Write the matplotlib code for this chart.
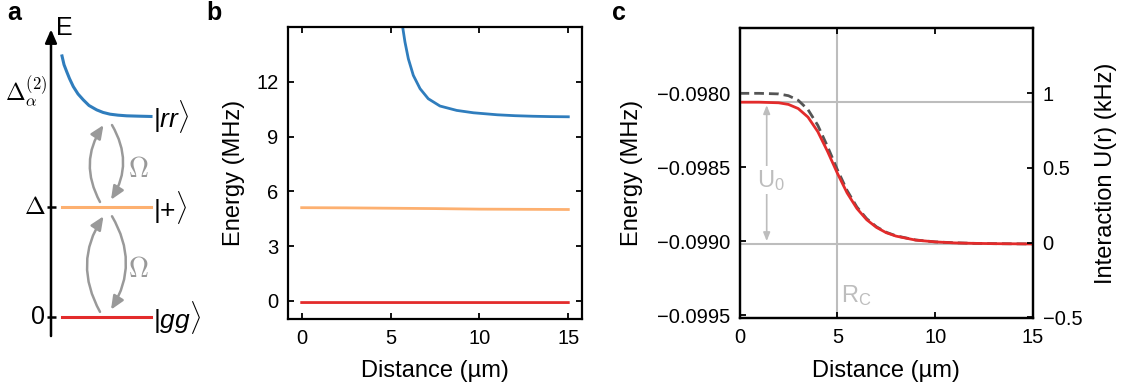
import matplotlib
import numpy as np

matplotlib.use("Agg")
import matplotlib.pyplot as plt  # noqa: E402
from matplotlib.ticker import FixedLocator, FuncFormatter  # noqa: E402

plt.rcParams["font.family"] = ["Liberation Sans", "DejaVu Sans"]
plt.rcParams["mathtext.fontset"] = "custom"
plt.rcParams["mathtext.rm"] = "Liberation Sans"
plt.rcParams["mathtext.it"] = "Liberation Sans:italic"
plt.rcParams["mathtext.bf"] = "Liberation Sans:bold"

BLUE = "#2f7dbd"
ORANGE = "#fdb070"
RED = "#e32b2b"
LIGHT = "#bdbdbd"
DARK = "#555555"
ARROW = "#999999"

# ---- panel a: schematic level diagram (energies in units of Delta) ----
level_energy = [0.0, 1.0, 1.83]
level_kets = [r"$|gg\rangle$", r"$|{+}\rangle$", r"$|rr\rangle$"]
level_colors = [RED, ORANGE, BLUE]
axis_ticks = [0.0, 1.0]
axis_ticklabels = ["0", r"$\Delta$"]
rr_curve_x = [62, 64, 66.7, 69.5, 73.3, 78, 83.3, 89, 96.7, 103, 110, 118, 126.7,
              138, 151]
rr_curve_e = [2.379, 2.30, 2.236, 2.173, 2.100, 2.033, 1.979, 1.928, 1.888, 1.865,
              1.849, 1.840, 1.834, 1.831, 1.828]

# ---- panel b: pair-state energies vs distance ----
b_rr_r = [5.6, 5.68, 5.81, 6.0, 6.28, 6.66, 7.12, 7.78, 8.72, 9.66, 11.0, 12.0,
          13.0, 14.0, 15.0]
b_rr_e = [15.5, 15.0, 14.18, 13.26, 12.35, 11.62, 11.07, 10.67, 10.43, 10.30,
          10.19, 10.14, 10.11, 10.09, 10.08]
b_plus_r = [0, 2.5, 5, 7.5, 10, 12.5, 15]
b_plus_e = [5.10, 5.09, 5.07, 5.05, 5.02, 5.01, 5.00]
b_gg_r = [0, 5, 10, 15]
b_gg_e = [-0.098, -0.0985, -0.099, -0.099]

# ---- panel c: dressed ground-state energy vs distance ----
c_r = [0, 1, 2, 2.5, 3, 3.5, 4, 4.5, 5, 5.5, 6, 6.5, 7, 7.5, 8, 9, 10, 11, 12, 13, 14, 15]
c_full = [-0.098060, -0.098060, -0.098064, -0.098075, -0.098103, -0.098161,
          -0.098259, -0.098393, -0.098540, -0.098674, -0.098779, -0.098855,
          -0.098907, -0.098943, -0.098966, -0.098993, -0.099005, -0.099012,
          -0.099015, -0.099017, -0.099018, -0.099019]
c_pert = [-0.098000, -0.098000, -0.098004, -0.098016, -0.098047, -0.098110,
          -0.098216, -0.098360, -0.098516, -0.098658, -0.098769, -0.098848,
          -0.098903, -0.098940, -0.098964, -0.098992, -0.099005, -0.099011,
          -0.099015, -0.099017, -0.099018, -0.099019]
c_u0_top = -0.098060
c_u0_base = -0.099020
c_rc = 5.0

TICK = 14.5
LABEL = 17

W, H = 1121, 389
fig = plt.figure(figsize=(W / 100, H / 100), dpi=100)

# ---------------- panel a ----------------
axa = fig.add_axes([0, 0, 230 / W, 1])
axa.set_xlim(0, 230)
axa.set_ylim(-0.652, 2.888)
axa.axis("off")

axa.annotate("", xy=(51, 2.62), xytext=(51, -0.17),
             arrowprops=dict(arrowstyle="-|>,head_width=0.35,head_length=0.8",
                             color="black", lw=1.8, shrinkA=0, shrinkB=0))
axa.text(56, 2.63, "E", fontsize=18, ha="left", va="center")
for e, lab in zip(axis_ticks, axis_ticklabels):
    axa.plot([46.5, 55.5], [e, e], color="black", lw=1.8, solid_capstyle="butt")
    axa.text(45.5, e, lab, fontsize=18, ha="right", va="center",
             math_fontfamily="cm")
axa.text(47, 2.05, r"$\Delta_\alpha^{(2)}$", fontsize=17, ha="right", va="center",
         math_fontfamily="cm")

for e, c in zip(level_energy[:2], level_colors[:2]):
    axa.plot([62, 151], [e, e], color=c, lw=2.2)
axa.plot(rr_curve_x, rr_curve_e, color=BLUE, lw=2.2)
for e, k in zip(level_energy, level_kets):
    axa.text(153, e, k, fontsize=19, ha="left", va="center")

for lo, hi in zip(level_energy[:-1], level_energy[1:]):
    style = dict(arrowstyle="-|>,head_width=0.35,head_length=0.8", color=ARROW,
                 lw=1.8, shrinkA=0, shrinkB=0, connectionstyle="arc3,rad=-0.3")
    axa.annotate("", xy=(103.5, hi - 0.08), xytext=(100, lo + 0.05), arrowprops=style)
    axa.annotate("", xy=(111, lo + 0.07), xytext=(112, hi - 0.08), arrowprops=style)
    axa.text(138, (lo + hi) / 2 - 0.07, r"$\Omega$", fontsize=20, color=ARROW,
             ha="center", va="center", math_fontfamily="cm")

# ---------------- panel b ----------------
axb = fig.add_axes([288 / W, 1 - 319 / H, 294 / W, 292 / H])
axb.plot(b_rr_r, b_rr_e, color=BLUE, lw=2)
axb.plot(b_plus_r, b_plus_e, color=ORANGE, lw=2)
axb.plot(b_gg_r, b_gg_e, color=RED, lw=2)
axb.set_xlim(-0.77, 15.77)
axb.set_ylim(-1, 15)
axb.set_xticks([0, 5, 10, 15])
axb.set_yticks([0, 3, 6, 9, 12])
axb.tick_params(direction="in", length=4, width=1.3, labelsize=TICK, pad=7,
                top=True, right=True)
axb.set_xlabel("Distance (\u00b5m)", fontsize=LABEL)
axb.set_ylabel("Energy (MHz)", fontsize=LABEL)
axb.xaxis.set_label_coords(0.5, -0.14)
axb.yaxis.set_label_coords(-0.146, 0.5)

# ---------------- panel c ----------------
axc = fig.add_axes([739.5 / W, 1 - 318.3 / H, 293.5 / W, 290.6 / H])
axc.axvline(c_rc, color=LIGHT, lw=1.5, zorder=1)
axc.axhline(c_u0_top, color=LIGHT, lw=1.5, zorder=1)
axc.axhline(c_u0_base, color=LIGHT, lw=1.5, zorder=1)
axc.plot(c_r, c_pert, color=DARK, lw=2, ls=(0, (3.5, 1.8)), zorder=3)
axc.plot(c_r, c_full, color=RED, lw=2, zorder=4)
axc.annotate("", xy=(1.39, c_u0_base + 0.000020), xytext=(1.39, c_u0_top - 0.000020),
             arrowprops=dict(arrowstyle="<|-|>,head_width=0.2,head_length=0.5",
                             color=LIGHT, lw=1.2, shrinkA=0, shrinkB=0), zorder=2)
axc.text(1.6, -0.098588, r"U$_0$", fontsize=17, color=LIGHT, ha="center",
         va="center", zorder=3,
         bbox=dict(fc="white", ec="none", pad=1.0))
axc.text(5.2, -0.099368, r"R$_\mathrm{C}$", fontsize=17, color=LIGHT,
         ha="left", va="center")
axc.set_xlim(0, 15)
axc.set_ylim(-0.099522, -0.097556)
axc.set_xticks([0, 5, 10, 15])
axc.yaxis.set_major_locator(FixedLocator([-0.0995, -0.0990, -0.0985, -0.0980]))
axc.yaxis.set_major_formatter(
    FuncFormatter(lambda v, _: f"{v:.4f}".replace("-", "\u2212")))
axc.tick_params(direction="in", length=4, width=1.3, labelsize=TICK, pad=7,
                top=True)
axc.set_xlabel("Distance (\u00b5m)", fontsize=LABEL)
axc.set_ylabel("Energy (MHz)", fontsize=LABEL)
axc.xaxis.set_label_coords(0.5, -0.143)
axc.yaxis.set_label_coords(-0.329, 0.5)

axr = axc.twinx()
axr.set_ylim(-0.507, 1.44)
axr.yaxis.set_major_locator(FixedLocator([-0.5, 0, 0.5, 1]))
axr.yaxis.set_major_formatter(
    FuncFormatter(lambda v, _: f"{v:g}".replace("-", "\u2212")))
axr.tick_params(direction="in", length=4, width=1.3, labelsize=TICK, pad=7)
axr.set_ylabel("Interaction U(r) (kHz)", fontsize=LABEL)
axr.yaxis.set_label_coords(1.211, 0.5)

for ax in (axb, axc, axr):
    for s in ax.spines.values():
        s.set_linewidth(1.6)

for x, lab in ((14, "a"), (213.5, "b"), (619, "c")):
    fig.text(x / W, 1 - 13 / H, lab, fontsize=18, fontweight="bold",
             ha="center", va="center")

fig.savefig("out.png", dpi=100)
